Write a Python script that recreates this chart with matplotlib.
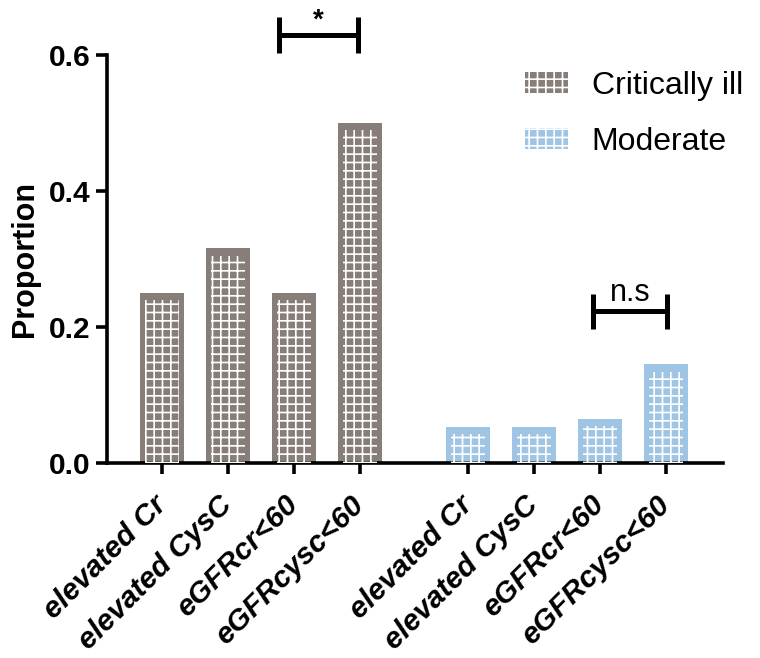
import matplotlib
matplotlib.use("Agg")
import matplotlib.pyplot as plt
from matplotlib.patches import Patch
import numpy as np

plt.rcParams['font.family'] = ['Liberation Sans', 'DejaVu Sans']
plt.rcParams['hatch.linewidth'] = 1.2

categories = ["elevated Cr", "elevated CysC", "eGFRcr<60", "eGFRcysc<60"]
groups = ["Critically ill", "Moderate"]
critical_vals = [0.25, 0.316, 0.25, 0.50]
moderate_vals = [0.053, 0.053, 0.065, 0.145]
y_ticks = [0.0, 0.2, 0.4, 0.6]

gray = "#877d79"
blue = "#9fc4e4"

fig = plt.figure(figsize=(7.6, 6.58), dpi=100)
ax = fig.add_axes([0.1408, 0.2964, 0.8105, 0.62])

n = len(categories)
pos_c = np.arange(n)
pos_m = np.arange(n) + n + 0.65
width = 0.67
inner_w = 0.52

for pos, vals, col in [(pos_c, critical_vals, gray), (pos_m, moderate_vals, blue)]:
    ax.bar(pos, vals, width=width, color=col, linewidth=0, zorder=2)
    ax.bar(pos, np.array(vals) - 0.011, width=inner_w, facecolor='none',
           edgecolor='white', linewidth=0, hatch='++', zorder=3)

ax.set_xlim(-0.84, pos_m[-1] + 0.87)
ax.set_ylim(0, 0.6)
ax.set_yticks(y_ticks)
ax.set_yticklabels([f"{v:.1f}" for v in y_ticks], fontsize=21.5, fontweight='bold')
ax.set_ylabel("Proportion", fontsize=22, fontweight='bold', labelpad=6)

ax.set_xticks(np.concatenate([pos_c, pos_m]))
ax.set_xticklabels(categories + categories, rotation=45, ha='right', va='center',
                   rotation_mode='anchor', fontsize=21.5, fontweight='bold', style='italic')

for s in ['top', 'right']:
    ax.spines[s].set_visible(False)
for s in ['left', 'bottom']:
    ax.spines[s].set_linewidth(2.6)
ax.tick_params(axis='both', width=2.6, length=8, color='black')
ax.tick_params(axis='x', pad=19)
ax.tick_params(axis='y', pad=4)

# significance brackets
lw = 3.6
def bracket(x0, x1, yh, ylo, yhi, label, ty, fs, weight):
    ax.plot([x0, x1], [yh, yh], color='black', lw=lw, clip_on=False, solid_capstyle='butt')
    ax.plot([x0, x0], [ylo, yhi], color='black', lw=lw, clip_on=False, solid_capstyle='butt')
    ax.plot([x1, x1], [ylo, yhi], color='black', lw=lw, clip_on=False, solid_capstyle='butt')
    ax.text((x0 + x1) / 2, ty, label, ha='center', va='bottom', fontsize=fs,
            fontweight=weight, clip_on=False)

bracket(1.78, 2.97, 0.629, 0.603, 0.656, "*", 0.632, 20, 'bold')
bracket(6.545, 7.67, 0.2235, 0.197, 0.2485, "n.s", 0.228, 22, 'normal')

handles = [Patch(facecolor=gray, edgecolor='white', linewidth=0, hatch='++'),
           Patch(facecolor=blue, edgecolor='white', linewidth=0, hatch='++')]
leg = ax.legend(handles, groups, loc='upper left', bbox_to_anchor=(0.652, 1.0),
                frameon=False, fontsize=23, handlelength=1.35, handleheight=0.62,
                handletextpad=0.75, labelspacing=0.8, borderpad=0)

fig.savefig("out.png", dpi=100, facecolor='white')
